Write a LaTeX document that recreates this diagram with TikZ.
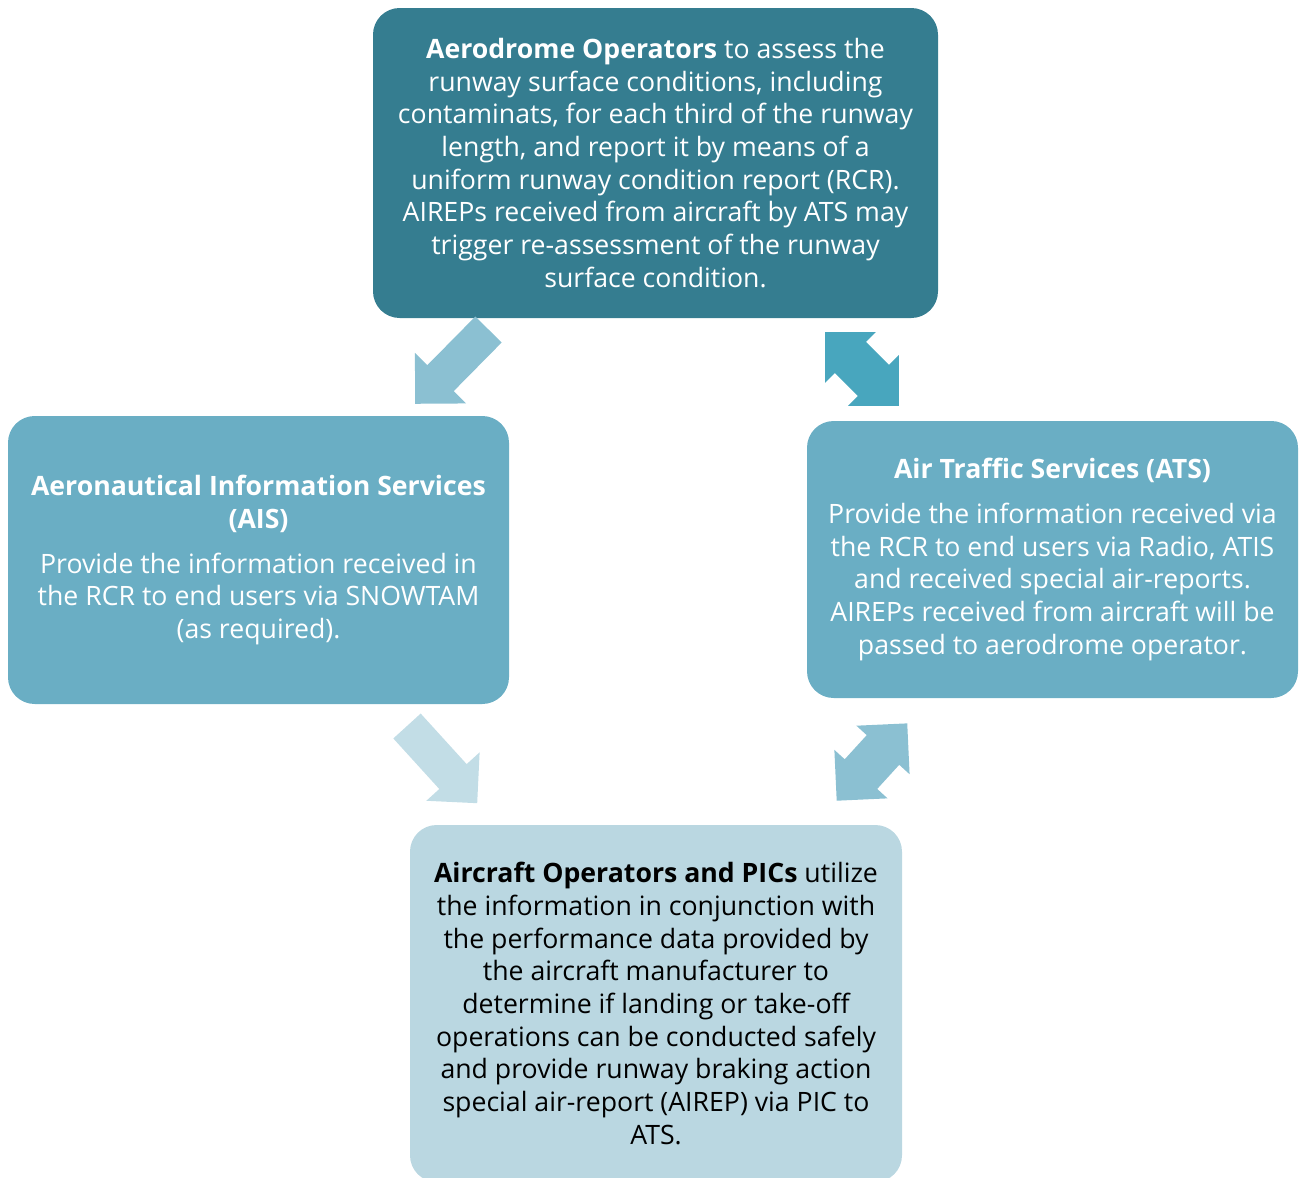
\documentclass[tikz,border=0pt]{standalone}
\usepackage{fontspec}
\setmainfont{Open Sans}
\usetikzlibrary{calc}
\definecolor{aerodark}{HTML}{357D90}
\definecolor{servicemid}{HTML}{6AAEC4}
\definecolor{pilotlight}{HTML}{BAD7E1}
\definecolor{arrowmid}{HTML}{8BC0D2}
\definecolor{arrowteal}{HTML}{48A6BE}
\definecolor{arrowpale}{HTML}{C2DDE6}
\tikzset{
  info box/.style={
    rounded corners=20pt, inner sep=0pt, outer sep=0pt,
    align=center, font=\fontsize{20}{24.5}\selectfont
  },
  aerodrome box/.style={info box, fill=aerodark, text=white,
    minimum width=423.75pt, minimum height=232.5pt},
  service box/.style={info box, fill=servicemid, text=white},
  pilot box/.style={info box, fill=pilotlight, text=black,
    minimum width=369pt, minimum height=267.75pt}
}
% block arrows: measure the frame from tail to tip, then fill the outline
\newcommand{\arrowframe}[2]{%
  \path let \p1=($(#2)-(#1)$) in
    \pgfextra{\pgfmathsetmacro\arrlen{veclen(\x1,\y1)}%
      \pgfmathsetmacro\arrang{atan2(\y1,\x1)}%
      \xdef\arrlen{\arrlen}\xdef\arrang{\arrang}};
}
\newcommand{\onewayarrow}[4]{%
  \arrowframe{#2}{#3}
  \fill[#1, shift={(#2)}, rotate=\arrang]
    (0pt,-#4) -- ({\arrlen pt-27pt},-#4) -- ({\arrlen pt-27pt},-27pt)
    -- (\arrlen pt,0pt) -- ({\arrlen pt-27pt},27pt) -- ({\arrlen pt-27pt},#4)
    -- (0pt,#4) -- cycle;
}
\newcommand{\twowayarrow}[4]{%
  \arrowframe{#2}{#3}
  \fill[#1, shift={(#2)}, rotate=\arrang]
    (27pt,-#4) -- ({\arrlen pt-27pt},-#4) -- ({\arrlen pt-27pt},-27pt)
    -- (\arrlen pt,0pt) -- ({\arrlen pt-27pt},27pt) -- ({\arrlen pt-27pt},#4)
    -- (27pt,#4) -- (27pt,27pt) -- (0pt,0pt) -- (27pt,-27pt) -- cycle;
}

\begin{document}
\begin{tikzpicture}[x=0.75pt,y=-0.75pt]
  \useasboundingbox (0,0) rectangle (1300,1178);

  % The four parties, in pixel positions of the original chart.
  \node[aerodrome box] (aero) at (655.5,163) {%
    \textbf{Aerodrome Operators} to assess the\\
    runway surface conditions, including\\
    contaminats, for each third of the runway\\
    length, and report it by means of a\\
    uniform runway condition report (RCR).\\
    AIREPs received from aircraft by ATS may\\
    trigger re-assessment of the runway\\
    surface condition.};
  \node[service box, minimum width=375.75pt, minimum height=216pt] (ais) at (258.5,560) {%
    \textbf{Aeronautical Information Services}\\
    \textbf{(AIS)}\\[9pt]
    Provide the information received in\\
    the RCR to end users via SNOWTAM\\
    (as required).};
  \node[service box, minimum width=368.25pt, minimum height=207.75pt] (ats) at (1052.5,559.5) {%
    \textbf{Air Traffic Services (ATS)}\\[9pt]
    Provide the information received via\\
    the RCR to end users via Radio, ATIS\\
    and received special air-reports.\\
    AIREPs received from aircraft will be\\
    passed to aerodrome operator.};
  \node[pilot box] (pilot) at (656,1003.5) {%
    \textbf{Aircraft Operators and PICs} utilize\\
    the information in conjunction with\\
    the performance data provided by\\
    the aircraft manufacturer to\\
    determine if landing or take-off\\
    operations can be conducted safely\\
    and provide runway braking action\\
    special air-report (AIREP) via PIC to\\
    ATS.};

  % Arrow ends sit in the gaps between the boxes.
  \coordinate (aero-ais-tail) at (488.5,329.5);
  \coordinate (aero-ais-tip) at (415,404);
  \coordinate (aero-ats-a) at (825,332);
  \coordinate (aero-ats-b) at (899,406);
  \coordinate (ais-pilot-tail) at (407,726);
  \coordinate (ais-pilot-tip) at (477.3,803.3);
  \coordinate (pilot-ats-a) at (836.7,800.7);
  \coordinate (pilot-ats-b) at (907.3,723.3);

  \onewayarrow{arrowmid}{aero-ais-tail}{aero-ais-tip}{13.875pt}
  \twowayarrow{arrowteal}{aero-ats-a}{aero-ats-b}{16.5pt}
  \onewayarrow{arrowpale}{ais-pilot-tail}{ais-pilot-tip}{13.875pt}
  \twowayarrow{arrowmid}{pilot-ats-a}{pilot-ats-b}{16.5pt}
\end{tikzpicture}
\end{document}
